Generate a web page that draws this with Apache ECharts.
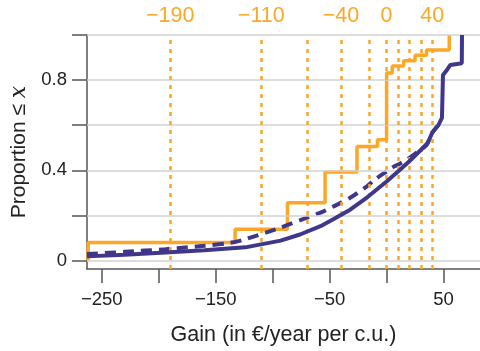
<!DOCTYPE html>
<html><head><meta charset="utf-8">
<script src="https://cdn.jsdelivr.net/npm/echarts@6/dist/echarts.min.js"></script>
<style>html,body{margin:0;padding:0;background:#fff}#c{width:480px;height:351px}</style>
</head><body><div id="c"></div>
<script>
// Orange step CDF (x, proportion)
const orangeSteps = [[-262,0],[-262,0.08],[-133,0.138],[-87,0.256],[-54,0.392],[-26,0.505],[-8,0.535],[0,0.831],[5,0.862],[15,0.886],[25,0.91],[35,0.934],[55,1.0]];
// Purple solid curve
const purpleSolid = [[-263,0.018],[-230,0.025],[-194,0.035],[-160,0.045],[-124,0.058],[-93,0.088],[-76,0.115],[-58,0.152],[-46,0.185],[-32,0.225],[-17,0.28],[0,0.35],[12,0.403],[20,0.44],[30,0.49],[36,0.52],[40,0.566],[45.7,0.602],[48.6,0.632],[49.5,0.823],[53,0.845],[56,0.867],[66,0.875],[66.2,1.0]];
// Purple dashed curve
const purpleDashed = [[-263,0.028],[-230,0.038],[-194,0.05],[-160,0.065],[-137,0.078],[-124,0.094],[-93,0.146],[-70,0.19],[-58,0.212],[-46,0.241],[-32,0.278],[-17,0.33],[-10,0.36],[0,0.395],[6,0.415],[12,0.43],[20,0.455],[28,0.485],[35,0.512],[40,0.566],[45.7,0.602]];
// Reference (dotted) x positions and top labels
const refLines = [-190,-110,-70,-40,-15,0,10,20,30,40];
const topLabels = [-190,-110,-40,0,40];
const xTicks = [-250,-200,-150,-100,-50,0,50];
const xLabels = [-250,-150,-50,50];
const yTicks = [0,0.2,0.4,0.6,0.8,1.0];
const yLabels = [0,0.4,0.8];

const ORANGE = '#FDA727', PURPLE = '#3F378C', AX = '#555555';
const FONT = 'Liberation Sans, Arial, sans-serif';
const fmt = v => String(+v.toFixed(2)).replace('-', '\u2212');

const chart = echarts.init(document.getElementById('c'), null, {renderer:'canvas'});
chart.setOption({
  animation:false,
  grid:{left:87,right:0,top:35,bottom:81},
  xAxis:[{
    type:'value', min:-263, max:82, position:'bottom',
    axisLine:{show:true,onZero:false,lineStyle:{color:AX,width:1.5}},
    axisTick:{show:true,customValues:xTicks,length:14,lineStyle:{color:AX,width:1.5}},
    axisLabel:{customValues:xLabels,formatter:fmt,color:'#222',fontSize:18.5,fontFamily:FONT,margin:21},
    splitLine:{show:false},
    name:'Gain (in €/year per c.u.)', nameLocation:'middle', nameGap:55,
    nameTextStyle:{color:'#222',fontSize:21.5,fontFamily:FONT}
  },{
    type:'value', min:-263, max:82, position:'top',
    axisLine:{show:false}, axisTick:{show:false}, splitLine:{show:false},
    axisLabel:{customValues:topLabels,formatter:fmt,color:ORANGE,fontSize:21.5,fontFamily:FONT,margin:8}
  }],
  yAxis:{
    type:'value', min:-0.038, max:1.0,
    axisLine:{show:true,onZero:false,lineStyle:{color:AX,width:1.5}},
    axisTick:{show:true,customValues:yTicks,length:15,lineStyle:{color:AX,width:1.5}},
    axisLabel:{customValues:yLabels,formatter:fmt,color:'#222',fontSize:18.5,fontFamily:FONT,margin:20},
    splitLine:{show:false},
    name:'{a|Proportion ≤ }{b|x}', nameLocation:'middle', nameGap:52, nameRotate:90,
    nameTextStyle:{rich:{a:{color:'#222',fontSize:21,fontFamily:FONT},b:{color:'#222',fontSize:22,fontFamily:'DejaVu Serif, serif',fontStyle:'italic'}}}
  },
  series:[
    {type:'line', z:1, data:[], silent:true,
     markLine:{silent:true,symbol:'none',label:{show:false},animation:false,
       lineStyle:{color:'#d2d2d2',width:1.5,type:'solid'},
       data:yTicks.map(v=>({yAxis:v}))}},
    {type:'line', z:2, data:[], silent:true,
     markLine:{silent:true,symbol:'none',label:{show:false},animation:false,
       lineStyle:{color:ORANGE,width:2.5,type:[4,5]},
       data:refLines.map(v=>({xAxis:v}))}},
    {type:'line', z:3, data:orangeSteps, step:'end', showSymbol:false, lineStyle:{color:ORANGE,width:3.5}},
    {type:'line', z:4, data:purpleDashed, showSymbol:false, smooth:0.3, lineStyle:{color:PURPLE,width:4,type:[11,7]}},
    {type:'line', z:5, data:purpleSolid, showSymbol:false, lineStyle:{color:PURPLE,width:4}}
  ]
});
</script></body></html>
